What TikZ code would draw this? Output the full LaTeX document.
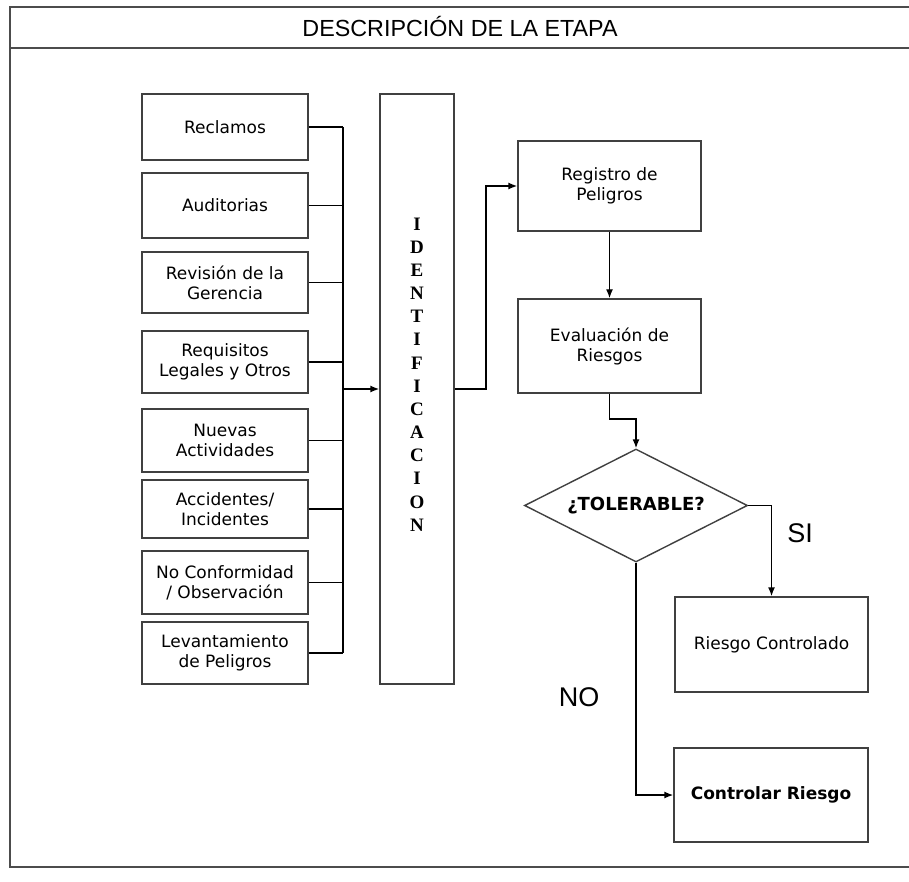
\documentclass[tikz,border=0pt]{standalone}
\usepackage{fontspec}
\setmainfont{DejaVu Sans}
\newfontfamily\libsans{Liberation Sans}
\newfontfamily\libserif{Liberation Serif}
\usetikzlibrary{arrows.meta,shapes.geometric}
\tikzset{
  frameline/.style={draw=black!70,line width=1.6pt},
  boxstyle/.style={draw=black!75,line width=1.4pt,rectangle,inner sep=0pt,align=center,
     font=\fontsize{17}{20}\selectfont},
  srcbox/.style={boxstyle,minimum width=166pt},
  conn/.style={draw=black,line width=1.4pt},
  arr/.style={conn,-{Latex[length=9pt,width=7pt]}},
  decision/.style={diamond,draw=black!75,line width=1.4pt,inner sep=0pt,aspect=1.97,
     minimum width=223pt,minimum height=113pt,font=\bfseries\fontsize{18}{20}\selectfont},
  biglabel/.style={font=\libsans\fontsize{27}{30}\selectfont,inner sep=0pt}
}
\begin{document}
\begin{tikzpicture}[x=1pt,y=-1pt]
\useasboundingbox (0,0) rectangle (909,882);
\fill[white] (0,0) rectangle (909,882);
\begin{scope}
\clip (0,0) rectangle (909,882);
\draw[frameline] (915,7) -- (10,7) -- (10,867) -- (915,867);
\draw[frameline] (10,48) -- (915,48);
\end{scope}
\node[font=\libsans\fontsize{23.3}{26}\selectfont,inner sep=0pt] (title) at (460,27) {DESCRIPCIÓN DE LA ETAPA};

% source boxes
\node[srcbox,minimum height=66pt] (s1) at (225,127) {Reclamos};
\node[srcbox,minimum height=65pt] (s2) at (225,205.5) {Auditorias};
\node[srcbox,minimum height=61pt] (s3) at (225,282.5) {Revisión de la\\Gerencia};
\node[srcbox,minimum height=62pt] (s4) at (225,362) {Requisitos\\Legales y Otros};
\node[srcbox,minimum height=63pt] (s5) at (225,440.5) {Nuevas\\Actividades};
\node[srcbox,minimum height=58pt] (s6) at (225,509) {Accidentes/\\Incidentes};
\node[srcbox,minimum height=63pt] (s7) at (225,582.5) {No Conformidad\\/ Observación};
\node[srcbox,minimum height=62pt] (s8) at (225,653) {Levantamiento\\de Peligros};

% identification box
\node[boxstyle,minimum width=74pt,minimum height=590pt] (ident) at (417,389) {};
\node[font=\libserif\bfseries\fontsize{19}{23.15}\selectfont,align=center,inner sep=0pt] (identtxt) at (417,374.5)
  {I\\D\\E\\N\\T\\I\\F\\I\\C\\A\\C\\I\\O\\N};

% bus
\coordinate (busx) at (343,0);
\foreach \s in {s1,s2,s3,s4,s5,s6,s7,s8} {
  \draw[conn] (\s.east) -- (\s.east -| busx);
}
\draw[conn] (s1.east -| busx) -- (s8.east -| busx);
\draw[arr] (ident.west -| busx) -- (ident.west);

% right side
\node[boxstyle,minimum width=183pt,minimum height=90pt] (reg) at (609.5,186) {Registro de\\Peligros};
\node[boxstyle,minimum width=183pt,minimum height=94pt] (eval) at (609.5,346) {Evaluación de\\Riesgos};
\node[decision] (tol) at (636,505.5) {¿TOLERABLE?};
\node[boxstyle,minimum width=193pt,minimum height=95pt] (rc) at (771.5,644.5) {Riesgo Controlado};
\node[boxstyle,minimum width=194pt,minimum height=94pt,font=\bfseries\fontsize{17}{20}\selectfont] (cr) at (771,795) {Controlar Riesgo};

\coordinate (k1) at (486,0);
\draw[arr] (ident.east) -- (ident.east -| k1) |- (reg.west);
\draw[arr] (reg.south) -- (eval.north);
\coordinate (k2) at (0,419);
\draw[arr] (eval.south) -- (eval.south |- k2) -| (tol.north);
\draw[arr] (tol.east) -| (rc.north);
\draw[arr] (tol.south) |- (cr.west);

\node[biglabel] (si) at (800,533) {SI};
\node[biglabel] (no) at (579,697) {NO};
\end{tikzpicture}
\end{document}
